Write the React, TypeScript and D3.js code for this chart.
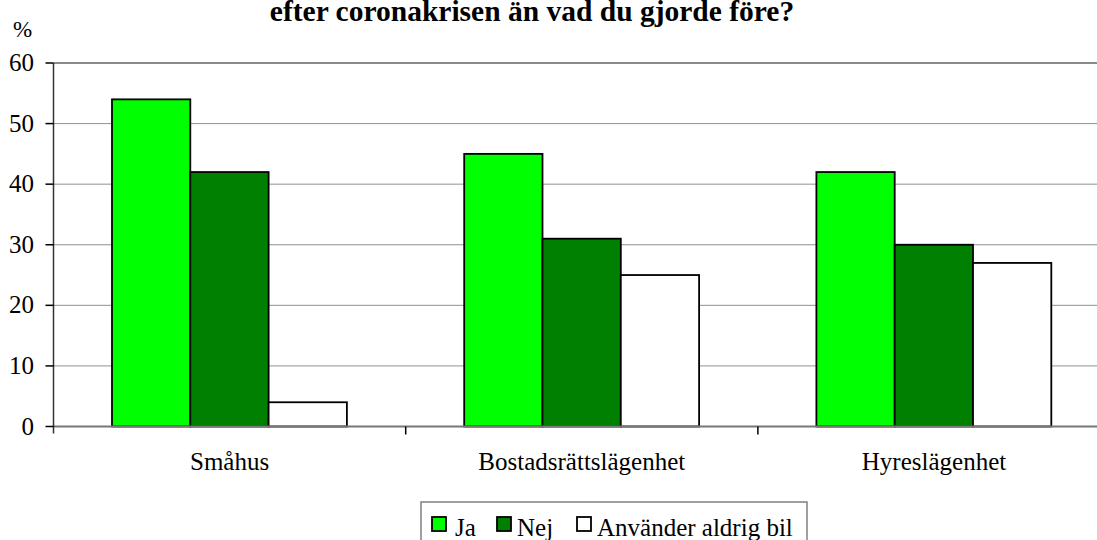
import React from "react";
import * as d3 from "d3";

const categories = ["Småhus", "Bostadsrättslägenhet", "Hyreslägenhet"];
const seriesNames = ["Ja", "Nej", "Använder aldrig bil"];
const seriesColors = ["#00ff00", "#008000", "#ffffff"];
const jaValues = [54, 45, 42];
const nejValues = [42, 31, 30];
const aldrigValues = [4, 25, 27];
const yTicks = [0, 10, 20, 30, 40, 50, 60];
const titleText = "efter coronakrisen än vad du gjorde före?";
const yUnit = "%";

const W = 1097;
const H = 540;
const FONT = '"Liberation Serif", "Times New Roman", serif';

export default function App() {
  const series = [jaValues, nejValues, aldrigValues];
  const left = 53.5;
  const bandW = 352.2;
  const x = d3
    .scaleBand<string>()
    .domain(categories)
    .range([left, left + bandW * categories.length])
    .padding(0);
  const inner = d3
    .scaleBand<string>()
    .domain(seriesNames)
    .range([58.5, 58.5 + 78.3 * 3])
    .padding(0);
  const y = d3.scaleLinear().domain([0, 60]).range([426.5, 63]);

  const legendItems = [
    { sx: 432, tx: 455 },
    { sx: 497, tx: 517 },
    { sx: 577, tx: 597 },
  ];

  return (
    <div style={{ position: "absolute", left: 0, top: 0, width: W, height: H, fontFamily: FONT }}>
      <svg width={W} height={H} style={{ display: "block", background: "#fff" }} fontFamily={FONT}>
        <rect x={0} y={0} width={W} height={H} fill="#fff" />
        <text x={532} y={21} textAnchor="middle" fontSize={29.5} fontWeight="bold" fill="#000">
          {titleText}
        </text>
        <text x={13} y={37} fontSize={23} fill="#000">
          {yUnit}
        </text>

        {yTicks
          .filter((t) => t > 0)
          .map((t) =>
            t === 60 ? (
              <line key={t} x1={left} x2={W} y1={y(t)} y2={y(t)} stroke="#8a8a8a" strokeWidth={2} />
            ) : (
              <line
                key={t}
                x1={left}
                x2={W}
                y1={y(t)}
                y2={y(t)}
                stroke="#222"
                strokeWidth={1}
                strokeDasharray="1,1"
              />
            )
          )}

        {categories.map((c, ci) =>
          seriesNames.map((s, si) => {
            const v = series[si][ci];
            const bx = (x(c) as number) + (inner(s) as number);
            return (
              <rect
                key={c + s}
                x={bx}
                y={y(v)}
                width={inner.bandwidth()}
                height={y(0) - y(v)}
                fill={seriesColors[si]}
                stroke="#000"
                strokeWidth={1.8}
              />
            );
          })
        )}

        <line x1={left} x2={W} y1={y(0)} y2={y(0)} stroke="#777" strokeWidth={2} />
        {categories.map((c, i) =>
          i > 0 ? (
            <line
              key={"xt" + c}
              x1={x(c) as number}
              x2={x(c) as number}
              y1={y(0)}
              y2={y(0) + 8}
              stroke="#000"
              strokeWidth={1.5}
            />
          ) : null
        )}
        {categories.map((c) => (
          <text
            key={"xl" + c}
            x={(x(c) as number) + x.bandwidth() / 2}
            y={470}
            textAnchor="middle"
            fontSize={25}
            fill="#000"
          >
            {c}
          </text>
        ))}

        <line x1={left} x2={left} y1={y(60)} y2={y(0) + 7} stroke="#333" strokeWidth={1.5} />
        {yTicks.map((t) => (
          <g key={"yt" + t}>
            <line x1={left - 8} x2={left} y1={y(t)} y2={y(t)} stroke="#000" strokeWidth={1.5} />
            <text x={34} y={y(t) + 8} textAnchor="end" fontSize={25} fill="#000">
              {t}
            </text>
          </g>
        ))}

        <rect x={421} y={502} width={386} height={60} fill="#fff" stroke="#808080" strokeWidth={1.5} />
        {seriesNames.map((s, i) => (
          <g key={"lg" + s}>
            <rect
              x={legendItems[i].sx}
              y={517}
              width={14}
              height={14}
              fill={seriesColors[i]}
              stroke="#000"
              strokeWidth={1.8}
            />
            <text x={legendItems[i].tx} y={536} fontSize={25} fill="#000">
              {s}
            </text>
          </g>
        ))}
      </svg>
    </div>
  );
}
